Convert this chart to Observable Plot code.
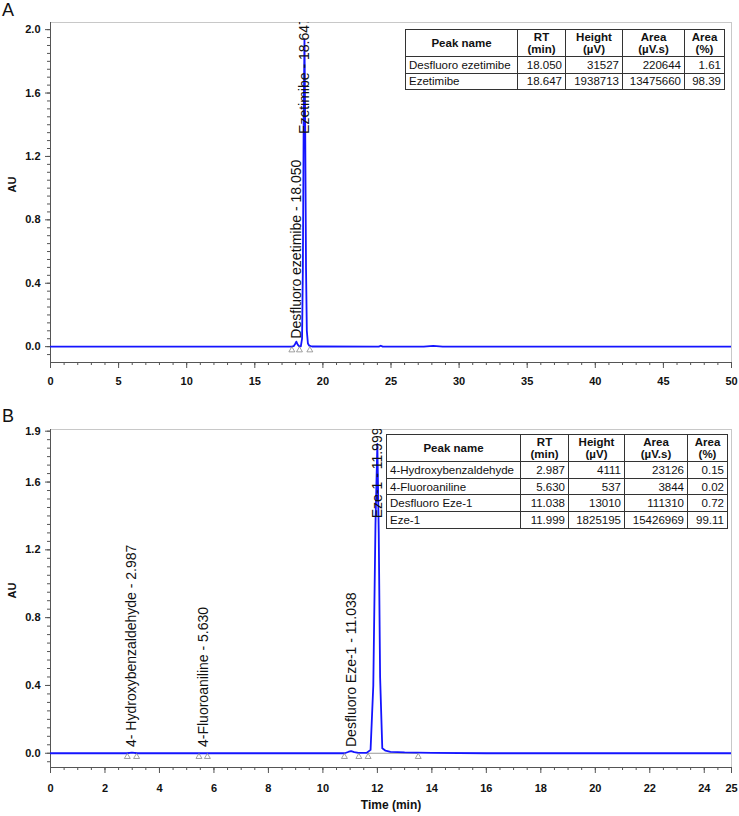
<!DOCTYPE html>
<html>
<head>
<meta charset="utf-8">
<script src="https://cdn.jsdelivr.net/npm/d3@7"></script>
<script src="https://cdn.jsdelivr.net/npm/@observablehq/plot@0.6"></script>
<style>
  body { margin: 0; background: #fff; font-family: "Liberation Sans", Arial, sans-serif; }
  #page { position: relative; width: 739px; height: 816px; overflow: hidden; background: #fff; }
  .panel { position: absolute; left: 0; }
  .letter { position: absolute; font-size: 18px; line-height: 1; color: #111; }
  table.pk { position: absolute; border-collapse: collapse; font-size: 11.5px; color: #111; background: #fff; table-layout: fixed; }
  table.pk td, table.pk th { border: 1px solid #333; padding: 0 3px; white-space: nowrap; overflow: hidden; }
  table.pk th { font-weight: bold; text-align: center; line-height: 12px; }
  table.pk td { text-align: right; }
  table.pk td.nm { text-align: left; }
</style>
</head>
<body>
<div id="page"></div>
<script>
// ---------- Panel A data ----------
const timeA   = [0, 10, 17.7, 17.85, 17.95, 18.05, 18.15, 18.25, 18.38, 18.47, 18.53, 18.59, 18.647, 18.7, 18.76, 18.82, 18.9, 19.0, 19.2, 24.1, 24.25, 24.4, 27.4, 28.1, 28.8, 50];
const signalA = [0, 0, 0, 0.003, 0.015, 0.0315, 0.013, 0.003, 0.002, 0.05, 0.5, 1.45, 1.9387, 1.4, 0.5, 0.1, 0.02, 0.006, 0.001, 0, 0.006, 0, 0, 0.005, 0, 0];
const peakNamesA  = ["Desfluoro ezetimibe", "Ezetimibe"];
const peakRtA     = [18.050, 18.647];
const peakLabelYA = [0.05, 1.342];
const markerTA    = [17.72, 18.28, 19.04];
const tableRowsA = [
  ["Desfluoro ezetimibe", "18.050", "31527", "220644", "1.61"],
  ["Ezetimibe", "18.647", "1938713", "13475660", "98.39"]
];
const yMajorA = [0, 0.4, 0.8, 1.2, 1.6, 2.0];
const xMajorA = [0, 5, 10, 15, 20, 25, 30, 35, 40, 45, 50];

// ---------- Panel B data ----------
const timeB   = [0, 2.8, 2.987, 3.2, 5.45, 5.63, 5.8, 10.8, 10.95, 11.038, 11.15, 11.3, 11.6, 11.75, 11.85, 11.93, 11.999, 12.05, 12.1, 12.18, 12.3, 12.48, 13.0, 13.46, 14.0, 16.0, 25];
const signalB = [0, 0, 0.004, 0, 0, 0.0005, 0, 0, 0.009, 0.013, 0.007, 0.002, 0.002, 0.02, 0.4, 1.35, 1.8252, 1.3, 0.45, 0.03, 0.015, 0.008, 0.005, 0.004, 0.002, 0, 0];
const peakNamesB  = ["4- Hydroxybenzaldehyde", "4-Fluoroaniline", "Desfluoro Eze-1", "Eze-1"];
const peakRtB     = [2.987, 5.630, 11.038, 11.999];
const peakLabelYB = [0.037, 0.037, 0.037, 1.386];
const markerTB    = [2.82, 3.16, 5.45, 5.76, 10.79, 11.32, 11.66, 13.5];
const tableRowsB = [
  ["4-Hydroxybenzaldehyde", "2.987", "4111", "23126", "0.15"],
  ["4-Fluoroaniline", "5.630", "537", "3844", "0.02"],
  ["Desfluoro Eze-1", "11.038", "13010", "111310", "0.72"],
  ["Eze-1", "11.999", "1825195", "15426969", "99.11"]
];
const yMajorB = [0, 0.4, 0.8, 1.2, 1.6, 1.9];
const xMajorB = [0, 2, 4, 6, 8, 10, 12, 14, 16, 18, 20, 22, 24, 25];

const tableHeader = ["Peak name", "RT<br>(min)", "Height<br>(µV)", "Area<br>(µV.s)", "Area<br>(%)"];

const page = document.getElementById("page");
const BLUE = "#1414ff";
const AXIS = "#555";

function chromatogram(o) {
  const trace = o.time.map((t, i) => ({t, v: o.signal[i]}));
  const labels = o.names.map((n, i) => ({t: o.rt[i], y: o.labelY[i], text: `${n} - ${o.rt[i].toFixed(3)}`}));
  const markers = o.markers.map(t => ({t}));
  const marks = [
    Plot.frame({stroke: "#c8c8c8"}),
    Plot.axisY(o.yMinor, {anchor: "left", label: null, tickSize: 3, tickFormat: () => "", stroke: AXIS}),
    Plot.axisY(o.yMajor, {anchor: "left", label: null, tickSize: 5, tickPadding: 5, tickFormat: d3.format(".1f"), fontWeight: "bold", fill: "#111", stroke: AXIS, fontSize: 11}),
    Plot.axisX(o.xMinor, {anchor: "bottom", label: null, tickSize: 3, tickFormat: () => "", stroke: AXIS}),
    Plot.axisX(o.xMajor, {anchor: "bottom", label: null, tickSize: 6, tickPadding: o.xPad, tickFormat: d3.format("d"), fontWeight: "bold", fill: "#111", stroke: AXIS, fontSize: 11}),
    Plot.ruleX([o.xDomain[0]], {stroke: AXIS}),
    Plot.ruleY([o.yDomain[0]], {stroke: AXIS}),
  ];
  if (o.intBase) marks.push(Plot.ruleY([o.intBase], {x1: "x1", x2: "x2", y: "y", stroke: "#999", strokeWidth: 1}));
  marks.push(
    Plot.line(trace, {x: "t", y: "v", stroke: BLUE, strokeWidth: 1.8, clip: true}),
    Plot.dot(markers, {x: "t", y: () => 0, dy: 3.5, symbol: "triangle", r: 2.2, stroke: "#888", fill: "none", strokeWidth: 0.8}),
    Plot.text(labels, {x: "t", y: "y", text: "text", rotate: -90, textAnchor: "start", lineAnchor: "middle", fontSize: 14, fill: "#111", clip: true}),
    Plot.text(["AU"], {frameAnchor: "left", dx: -38, rotate: -90, fontWeight: "bold", fontSize: 11, fill: "#111"})
  );
  if (o.xLabel) marks.push(Plot.text([o.xLabel], {frameAnchor: "bottom", dy: 41, fontWeight: "bold", fontSize: 12, fill: "#111"}));
  return Plot.plot({
    width: 739,
    height: o.height,
    marginLeft: 50,
    marginRight: 8,
    marginTop: o.marginTop,
    marginBottom: o.marginBottom,
    style: {fontFamily: "'Liberation Sans', Arial, sans-serif", fontSize: "11px", background: "transparent", overflow: "visible"},
    x: {domain: o.xDomain, axis: null, label: null},
    y: {domain: o.yDomain, axis: null, label: null},
    marks
  });
}

function addTable(rows, left, top, widths, headH, rowH) {
  const t = document.createElement("table");
  t.className = "pk";
  t.style.left = left + "px";
  t.style.top = top + "px";
  t.style.width = widths.reduce((a, b) => a + b, 0) + "px";
  const cg = document.createElement("colgroup");
  widths.forEach(w => { const c = document.createElement("col"); c.style.width = w + "px"; cg.appendChild(c); });
  t.appendChild(cg);
  const hr = document.createElement("tr");
  hr.style.height = headH + "px";
  tableHeader.forEach(h => { const th = document.createElement("th"); th.innerHTML = h; hr.appendChild(th); });
  t.appendChild(hr);
  rows.forEach(r => {
    const tr = document.createElement("tr");
    tr.style.height = rowH + "px";
    r.forEach((v, i) => { const td = document.createElement("td"); td.textContent = v; if (i === 0) td.className = "nm"; tr.appendChild(td); });
    t.appendChild(tr);
  });
  page.appendChild(t);
}

function addPanel(svg, top) {
  const d = document.createElement("div");
  d.className = "panel";
  d.style.top = top + "px";
  d.appendChild(svg);
  page.appendChild(d);
}

function addLetter(txt, left, top) {
  const d = document.createElement("div");
  d.className = "letter";
  d.style.left = left + "px";
  d.style.top = top + "px";
  d.textContent = txt;
  page.appendChild(d);
}

// Panel A
addPanel(chromatogram({
  time: timeA, signal: signalA, names: peakNamesA, rt: peakRtA, labelY: peakLabelYA, markers: markerTA,
  yMajor: yMajorA, yMinor: d3.range(-1, 41).map(i => i * 0.05),
  xMajor: xMajorA, xMinor: d3.range(0, 51),
  xDomain: [0, 50], yDomain: [-0.1, 2.045],
  height: 395, marginTop: 22, marginBottom: 33, xPad: 9
}), 0);

// Panel B
addPanel(chromatogram({
  time: timeB, signal: signalB, names: peakNamesB, rt: peakRtB, labelY: peakLabelYB, markers: markerTB,
  yMajor: yMajorB, yMinor: d3.range(-1, 39).map(i => i * 0.05),
  xMajor: xMajorB, xMinor: d3.range(0, 51).map(i => i * 0.5),
  xDomain: [0, 25], yDomain: [-0.084, 1.91],
  height: 421, marginTop: 34, marginBottom: 49, xPad: 11,
  intBase: {x1: 11.66, x2: 13.5, y: 0},
  xLabel: "Time (min)"
}), 395);

addLetter("A", 2, 1);
addLetter("B", 2, 407);

addTable(tableRowsA, 405, 29, [112, 48, 57, 62, 40], 27, 16.5);
addTable(tableRowsB, 386, 434, [134, 48, 56, 63, 40], 27, 16.7);
</script>
</body>
</html>
